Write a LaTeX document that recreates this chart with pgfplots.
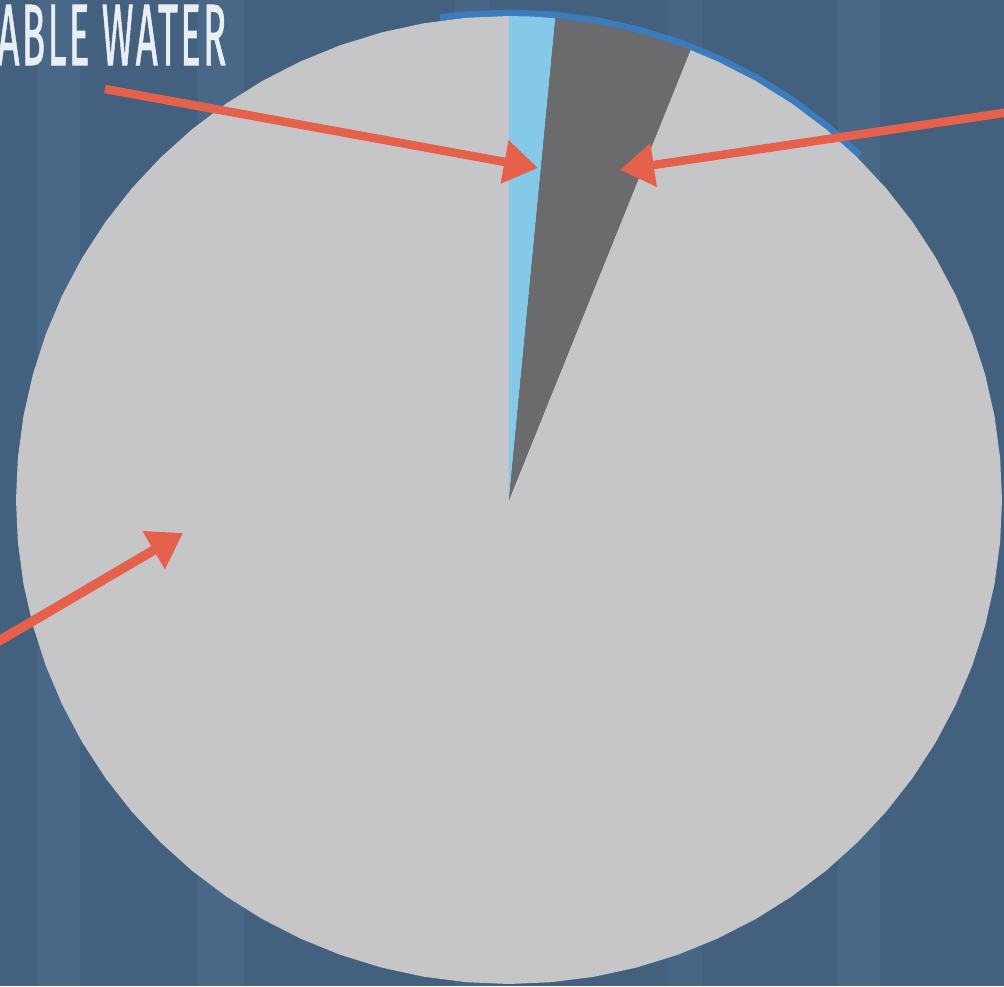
\documentclass[border=0pt]{standalone}
\usepackage{pgfplots}
\pgfplotsset{compat=1.18}
\usepgfplotslibrary{polar}
\usetikzlibrary{arrows.meta}
\usepackage{fontspec}
\setmainfont{Fira Sans}
\newfontfamily\titlefont[LetterSpace=6, FakeBold=1.2]{Fira Sans}

\definecolor{bgblue}{HTML}{43617F}
\definecolor{stripe}{HTML}{4C6B8C}
\definecolor{salt}{HTML}{C6C6C8}
\definecolor{ice}{HTML}{6B6B6D}
\definecolor{fresh}{HTML}{86C8E8}
\definecolor{rim}{HTML}{3C7CBC}
\definecolor{arrowred}{HTML}{E5614B}
\definecolor{label}{HTML}{E8EEF4}

% a frame in pixel units over the whole picture
\pgfplotsset{pxframe/.style={
    width=10.04cm, height=9.86cm, scale only axis,
    xmin=0, xmax=1004, ymin=0, ymax=986, y dir=reverse,
    hide axis, at={(0,0)}, anchor=south west}}

\begin{document}
\begin{tikzpicture}
% background and faint vertical stripes
\begin{axis}[pxframe]
\addplot[fill=bgblue, draw=none] coordinates {(0,0) (1004,0) (1004,986) (0,986)} -- cycle;
\addplot[fill=stripe, draw=none, opacity=0.7] coordinates {(38,0) (80,0) (80,986) (38,986)} -- cycle;
\addplot[fill=stripe, draw=none, opacity=0.7] coordinates {(198,0) (244,0) (244,986) (198,986)} -- cycle;
\addplot[fill=stripe, draw=none, opacity=0.5] coordinates {(455,0) (490,0) (490,986) (455,986)} -- cycle;
\addplot[fill=stripe, draw=none, opacity=0.6] coordinates {(668,0) (702,0) (702,986) (668,986)} -- cycle;
\addplot[fill=stripe, draw=none, opacity=0.7] coordinates {(838,0) (880,0) (880,986) (838,986)} -- cycle;
\end{axis}

% the pie: fresh water 1.5 %, ice 4.5 %, salt water 94 %, clockwise from the top
\begin{polaraxis}[hide axis, ymin=0, ymax=1, width=9.86cm, height=9.68cm,
    scale only axis, at={(5.09cm,4.86cm)}, anchor=center, clip=false]
\addplot[rim, line width=1.3mm, no marks] coordinates {
 (98,1) (95,1) (90,1) (85,1) (80,1) (75,1) (70,1) (65,1) (60,1)
 (55,1) (50,1) (45,1)};
\addplot[fill=salt, draw=none, no marks] coordinates {(0,0) (68.4,1)
 (65,1) (60,1) (55,1) (50,1) (45,1) (40,1) (35,1) (30,1) (25,1) (20,1)
 (15,1) (10,1) (5,1) (0,1) (-5,1) (-10,1) (-15,1) (-20,1) (-25,1) (-30,1)
 (-35,1) (-40,1) (-45,1) (-50,1) (-55,1) (-60,1) (-65,1) (-70,1) (-75,1)
 (-80,1) (-85,1) (-90,1) (-95,1) (-100,1) (-105,1) (-110,1) (-115,1)
 (-120,1) (-125,1) (-130,1) (-135,1) (-140,1) (-145,1) (-150,1) (-155,1)
 (-160,1) (-165,1) (-170,1) (-175,1) (-180,1) (-185,1) (-190,1) (-195,1)
 (-200,1) (-205,1) (-210,1) (-215,1) (-220,1) (-225,1) (-230,1) (-235,1)
 (-240,1) (-245,1) (-250,1) (-255,1) (-260,1) (-265,1) (-270,1)} -- cycle;
\addplot[fill=fresh, draw=none, no marks] coordinates {(0,0) (90,1) (87.3,1) (84.6,1)} -- cycle;
\addplot[fill=ice, draw=none, no marks] coordinates {(0,0) (84.6,1) (80,1) (76,1) (72,1) (68.4,1)} -- cycle;
\end{polaraxis}

% arrows and the title on top
\begin{axis}[pxframe, clip=false]
\draw[arrowred, line width=0.85mm, -{Triangle[length=3.4mm,width=4.2mm]}] (axis cs:105,89) -- (axis cs:538,168);
\draw[arrowred, line width=0.85mm, -{Triangle[length=3.4mm,width=4.2mm]}] (axis cs:1010,112) -- (axis cs:620,170);
\draw[arrowred, line width=0.95mm, -{Triangle[length=3.4mm,width=4.2mm]}] (axis cs:-8,645) -- (axis cs:183,533);
\node[anchor=base east, text=label, inner sep=0pt] at (axis cs:227,65)
  {\scalebox{0.44}[1]{\fontsize{24.8pt}{30pt}\titlefont ABLE WATER}};
\end{axis}

\pgfresetboundingbox
\path[use as bounding box] (0,0) rectangle (10.04cm,9.86cm);
\end{tikzpicture}
\end{document}
